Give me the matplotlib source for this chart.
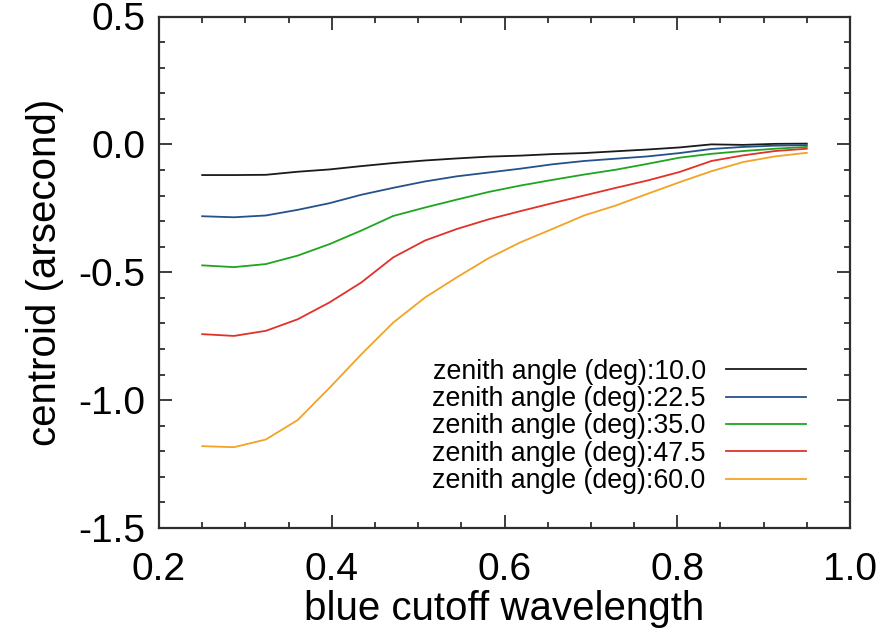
import matplotlib
matplotlib.use("Agg")
import matplotlib.pyplot as plt
from matplotlib.ticker import MultipleLocator

plt.rcParams['font.family'] = ['Liberation Sans', 'DejaVu Sans']

wavelength = [0.2500, 0.2868, 0.3237, 0.3605, 0.3974, 0.4342, 0.4711, 0.5079,
              0.5447, 0.5816, 0.6184, 0.6553, 0.6921, 0.7289, 0.7658, 0.8026,
              0.8395, 0.8763, 0.9132, 0.9500]

z10_0 = [-0.120, -0.120, -0.119, -0.107, -0.098, -0.085, -0.073, -0.063, -0.055, -0.048,
         -0.044, -0.038, -0.034, -0.027, -0.020, -0.012, 0.000, -0.002, 0.002, 0.003]
z22_5 = [-0.281, -0.285, -0.278, -0.256, -0.230, -0.197, -0.170, -0.145, -0.125, -0.110,
         -0.095, -0.078, -0.065, -0.056, -0.047, -0.034, -0.018, -0.010, -0.005, -0.003]
z35_0 = [-0.473, -0.480, -0.468, -0.435, -0.390, -0.337, -0.280, -0.247, -0.216, -0.186,
         -0.161, -0.139, -0.118, -0.099, -0.076, -0.052, -0.037, -0.026, -0.017, -0.010]
z47_5 = [-0.742, -0.749, -0.729, -0.684, -0.618, -0.540, -0.442, -0.376, -0.331, -0.293,
         -0.261, -0.230, -0.200, -0.170, -0.141, -0.108, -0.065, -0.043, -0.026, -0.017]
z60_0 = [-1.180, -1.184, -1.154, -1.078, -0.952, -0.821, -0.697, -0.599, -0.520, -0.445,
         -0.383, -0.331, -0.278, -0.239, -0.193, -0.148, -0.105, -0.069, -0.047, -0.033]

series = [z10_0, z22_5, z35_0, z47_5, z60_0]
labels = ["zenith angle (deg):10.0", "zenith angle (deg):22.5", "zenith angle (deg):35.0",
          "zenith angle (deg):47.5", "zenith angle (deg):60.0"]
colors = ["#1a1a1a", "#24528a", "#1fa51f", "#e0312b", "#f2a324"]

fig = plt.figure(figsize=(8.84, 6.33), dpi=100)
ax = fig.add_axes([159/884, 1 - 528/633, (850-159)/884, (528-16.5)/633])

for ys, lab, c in zip(series, labels, colors):
    ax.plot(wavelength, ys, color=c, lw=1.3, label=lab)

ax.set_xlim(0.2, 1.0)
ax.set_ylim(-1.5, 0.5)
ax.xaxis.set_major_locator(MultipleLocator(0.2))
ax.xaxis.set_minor_locator(MultipleLocator(0.05))
ax.yaxis.set_major_locator(MultipleLocator(0.5))
ax.yaxis.set_minor_locator(MultipleLocator(0.1))
ax.xaxis.set_major_formatter(plt.FuncFormatter(lambda v, p: f"{v:.1f}"))
ax.yaxis.set_major_formatter(plt.FuncFormatter(lambda v, p: f"{v:.1f}"))

for s in ax.spines.values():
    s.set_linewidth(1.6)
    s.set_color("#2e2e2e")
ax.tick_params(which='both', direction='in', top=True, right=True, color="#2e2e2e", width=1.3)
ax.tick_params(which='major', length=9.5, labelsize=28)
ax.tick_params(axis='x', which='major', pad=17)
ax.tick_params(axis='y', which='major', pad=10)
ax.tick_params(which='minor', length=4.5)

ax.set_xlabel("blue cutoff wavelength", fontsize=29, labelpad=2)
ax.set_ylabel("centroid (arsecond)", fontsize=29, labelpad=10)

leg = ax.legend(loc='lower right', bbox_to_anchor=(0.956, 0.04), frameon=False,
                markerfirst=False, fontsize=19.3, handlelength=3.0, handletextpad=0.75,
                labelspacing=0.05, borderpad=0.0)

fig.savefig("out.png", dpi=100)
